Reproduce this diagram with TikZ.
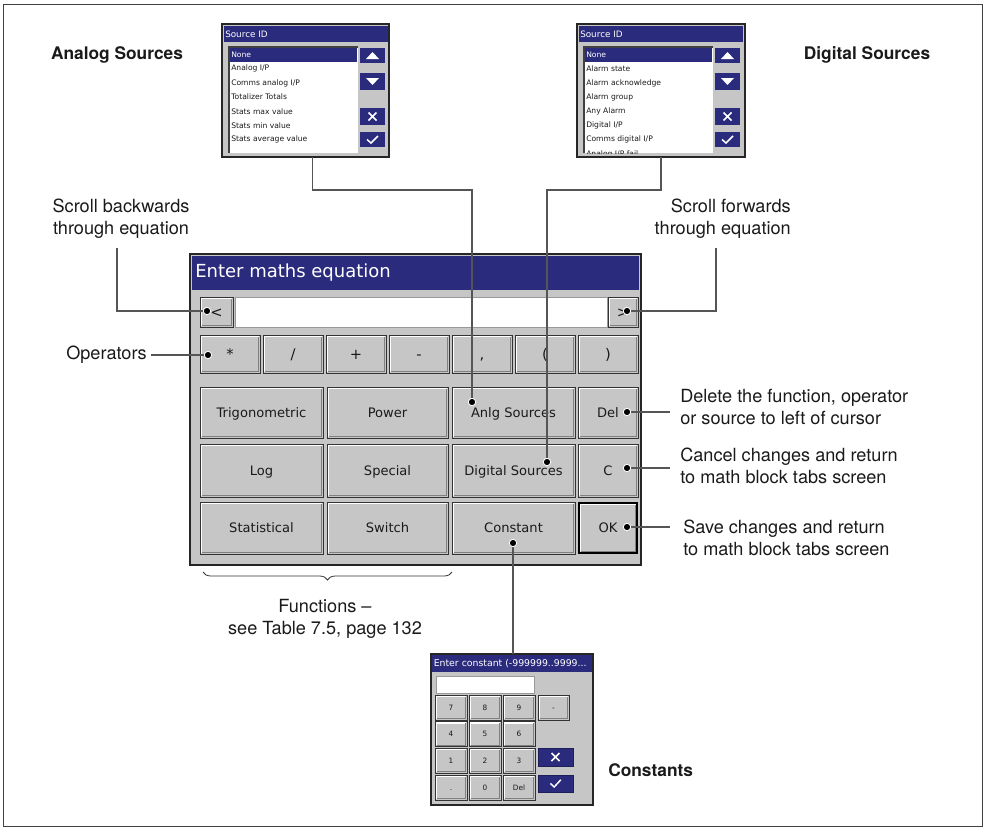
\documentclass[tikz,border=0pt]{standalone}
\usepackage{fontspec}
\setmainfont{TeX Gyre Heros}
\newfontfamily\uifont{DejaVu Sans}
\usetikzlibrary{fit, decorations.pathreplacing}
\definecolor{colNavy}{HTML}{2B2B7D}
\definecolor{colPanel}{HTML}{C6C6C6}
\definecolor{colLead}{HTML}{555555}
\definecolor{colText}{HTML}{1A1A1A}
\newcommand\calloutSize{\fontsize{13.6}{16.5}\selectfont}
\tikzset{
  frameLine/.style={draw=black!75, line width=0.6pt},
  winFrame/.style={draw=black!85, fill=colPanel, line width=0.9pt,
    inner sep=0pt, outer sep=0pt},
  titleBar/.style={fill=colNavy, inner sep=0pt, outer sep=0pt},
  winTitle/.style={font=\uifont\fontsize{13.5}{14}\selectfont, text=white, inner sep=0pt},
  dlgTitle/.style={font=\uifont\fontsize{7}{8}\selectfont, text=white, inner sep=0pt},
  srcTitle/.style={font=\uifont\fontsize{6.6}{7}\selectfont, text=white, inner sep=0pt},
  srcItem/.style={font=\uifont\fontsize{5.7}{6}\selectfont, text=colText, inner sep=0pt},
  entryField/.style={fill=white, draw=black!40, line width=0.6pt, inner sep=0pt, outer sep=0pt,
    path picture={\draw[black!85, line width=1.4pt]
      (path picture bounding box.south west) |- (path picture bounding box.north east);}},
  uiButton/.style={draw=black!80, fill=colPanel, line width=0.6pt, inner sep=0pt, outer sep=0pt,
    path picture={
      \draw[white, line width=1.1pt]
        ([shift={(1pt,1pt)}]path picture bounding box.south west)
        |- ([shift={(-1pt,-1pt)}]path picture bounding box.north east);
      \draw[black!50, line width=0.9pt]
        ([shift={(1.2pt,1.2pt)}]path picture bounding box.south west)
        -| ([shift={(-1.2pt,-1.2pt)}]path picture bounding box.north east);}},
  okButton/.style={uiButton, draw=black, line width=1.6pt},
  navyButton/.style={fill=colNavy, draw=colNavy!70!black, line width=0.5pt,
    inner sep=0pt, outer sep=0pt},
  navyMark/.style={draw=white, line width=1.1pt},
  btnLabel/.style={inner sep=0pt, text=colText, text depth=0pt, text height=7.1pt,
    font=\uifont\fontsize{9.8}{11}\selectfont},
  opFont/.style={font=\uifont\fontsize{11}{12}\selectfont, text height=8pt},
  keyFont/.style={font=\uifont\fontsize{5.5}{6}\selectfont, text height=4pt},
  btnTxt/.style={label={[btnLabel]center:#1}},
  opTxt/.style={label={[btnLabel, opFont]center:#1}},
  keyTxt/.style={label={[btnLabel, keyFont]center:#1}},
  leadLine/.style={draw=colLead, line width=0.9pt},
  dotMark/.style={circle, fill=black, draw=white, line width=0.6pt,
    minimum size=5.5pt, inner sep=0pt},
  callout/.style={font=\calloutSize, text=colText, inner sep=3pt, align=left},
  calloutBold/.style={callout, font=\fontsize{13}{15}\selectfont\bfseries},
  fnBrace/.style={decorate, decoration={brace, mirror, amplitude=6pt},
    draw=black!80, line width=0.6pt},
}
% inner part of a "Source ID" list panel, #1 = left edge, #2 = items after None
\newcommand\srcPanel[2]{%
  \begin{scope}[shift={(#1,24)}]
    \fill[colNavy] (1.5,1.5) rectangle (165.5,18);
    \node[srcTitle, anchor=west] at (3,10) {Source ID};
    \fill[white] (7,23) rectangle (136,129);
    \draw[black!75, line width=0.8pt] (7,129) -- (7,23) -- (136,23);
    \begin{scope}
      \clip (7.5,23.5) rectangle (136,129);
      \fill[colNavy] (8,23.5) rectangle (135,38);
      \node[srcItem, text=white, anchor=west] at (9,30.5) {None};
      \foreach \t [count=\i] in {#2}
        \node[srcItem, anchor=west] at (9,30.5+14.2*\i) {\t};
    \end{scope}
    \foreach \ya/\yb in {24/39, 49/66, 84/101, 108/123}
      \fill[colNavy] (138,\ya) rectangle (163,\yb);
    \fill[white] (144,35) -- (157,35) -- (150.5,28) -- cycle;
    \fill[white] (144,54) -- (157,54) -- (150.5,61) -- cycle;
    \draw[navyMark] (146.5,88.5) -- (154.5,96.5) (146.5,96.5) -- (154.5,88.5);
    \draw[navyMark] (145,115.5) -- (149,119) -- (156,112);
  \end{scope}}

\begin{document}
\begin{tikzpicture}[x=0.75pt, y=-0.75pt]
  \useasboundingbox (0,0) rectangle (985,829);
  \draw[frameLine] (3,4) rectangle (982,826);

  % source lists
  \node[winFrame, fit={(222,24)(389,157)}] (srcA) {};
  \srcPanel{222}{Analog I/P, Comms analog I/P, Totalizer Totals, Stats max value,
    Stats min value, Stats average value}
  \node[winFrame, fit={(577,24)(745,157)}] (srcD) {};
  \srcPanel{577}{Alarm state, Alarm acknowledge, Alarm group, Any Alarm,
    Digital I/P, Comms digital I/P, Analog I/P fail}

  % equation window
  \node[winFrame, fit={(190,254)(641,565)}] (eqWin) {};
  \node[titleBar, fit={(192,256)(639,290)}] (eqBar) {};
  \node[winTitle, anchor=west] (eqTitle) at (195,273) {Enter maths equation};
  \node[uiButton, fit={(200,297)(233,327)}, opTxt=<] (btnBack) {};
  \node[entryField, fit={(235,297)(607,327)}] (eqField) {};
  \node[uiButton, fit={(608,297)(638,327)}, opTxt=>] (btnFwd) {};
  \foreach \s [count=\i from 0] in {*,/,+,-,{,},{(},{)}}
    \node[uiButton, fit={(200+63*\i,335)(260+63*\i,373)}, opTxt=\s] (op\i) {};

  \node[uiButton, fit={(200,387)(323,438)}, btnTxt=Trigonometric] (btnTrig) {};
  \node[uiButton, fit={(327,387)(448,438)}, btnTxt=Power] (btnPower) {};
  \node[uiButton, fit={(452,387)(575,438)}, btnTxt=Anlg Sources] (btnAnlg) {};
  \node[uiButton, fit={(578,387)(638,438)}, btnTxt=Del] (btnDel) {};
  \node[uiButton, fit={(200,444)(323,497)}, btnTxt=Log] (btnLog) {};
  \node[uiButton, fit={(327,444)(448,497)}, btnTxt=Special] (btnSpecial) {};
  \node[uiButton, fit={(452,444)(575,497)}, btnTxt=Digital Sources] (btnDig) {};
  \node[uiButton, fit={(578,444)(638,497)}, btnTxt=C] (btnC) {};
  \node[uiButton, fit={(200,502)(323,554)}, btnTxt=Statistical] (btnStat) {};
  \node[uiButton, fit={(327,502)(448,554)}, btnTxt=Switch] (btnSwitch) {};
  \node[uiButton, fit={(452,502)(575,554)}, btnTxt=Constant] (btnConst) {};
  \node[okButton, fit={(579,503)(637,553)}, btnTxt=OK] (btnOK) {};

  % constant keypad
  \node[winFrame, fit={(431,654)(593,805)}] (kpd) {};
  \node[titleBar, fit={(432,655)(592,672)}] (kpdBar) {};
  \node[dlgTitle, anchor=west] (kpdTitle) at (433.5,663.5) {Enter constant (-999999..9999...};
  \node[entryField, fit={(436,676)(534,693)}] (kpdField) {};
  \foreach \k [count=\i from 0] in {7,8,9,4,5,6,1,2,3,.,0,Del} {
    \pgfmathsetmacro\kx{435+34*mod(\i,3)}
    \pgfmathsetmacro\ky{695+26.7*floor(\i/3)}
    \node[uiButton, fit={(\kx,\ky)(\kx+32,\ky+25)}, keyTxt=\k] (key\i) {};
  }
  \node[uiButton, fit={(538,695)(569,720)}, keyTxt=-] (keyMinus) {};
  \node[navyButton, fit={(538,748)(573,766)}] (kpdCancel) {};
  \draw[navyMark] ([shift={(-3pt,-3pt)}]kpdCancel.center) -- ([shift={(3pt,3pt)}]kpdCancel.center)
    ([shift={(-3pt,3pt)}]kpdCancel.center) -- ([shift={(3pt,-3pt)}]kpdCancel.center);
  \node[navyButton, fit={(538,775)(573,792)}] (kpdOk) {};
  \draw[navyMark] ([shift={(-3.8pt,0pt)}]kpdOk.center) -- ([shift={(-1pt,-2.6pt)}]kpdOk.center)
    -- ([shift={(4pt,2.8pt)}]kpdOk.center);

  % callouts
  \node[calloutBold] (lblAnalog) at (117,55) {Analog Sources};
  \node[calloutBold] (lblDigital) at (867,55) {Digital Sources};
  \node[callout, align=center] (lblBack) at (121,219) {Scroll backwards\\through equation};
  \node[callout, align=right, anchor=east] (lblFwd) at (795,219) {Scroll forwards\\through equation};
  \node[callout, anchor=east] (lblOps) at (151,355) {Operators};
  \node[callout, anchor=west] (lblDel) at (676,407) {Delete the function, operator\\or source to left of cursor};
  \node[callout, anchor=west] (lblC) at (676,466) {Cancel changes and return\\to math block tabs screen};
  \node[callout, anchor=west] (lblOK) at (679,538) {Save changes and return\\to math block tabs screen};
  \node[callout, align=center] (lblFunc) at (325,619) {Functions –\\see Table 7.5, page 132};
  \node[calloutBold, anchor=west] (lblConst) at (604,770) {Constants};
  \draw[fnBrace] (203,572) -- (452,572);

  % marker dots
  \node[dotMark] (dBack) at (207,311) {};
  \node[dotMark] (dFwd) at (627,311) {};
  \node[dotMark] (dOps) at (208,355) {};
  \node[dotMark] (dAnlg) at (472,402) {};
  \node[dotMark] (dDig) at (547,462) {};
  \node[dotMark] (dDel) at (627,412) {};
  \node[dotMark] (dC) at (627,468) {};
  \node[dotMark] (dOK) at (627,527) {};
  \node[dotMark] (dConst) at (513,543) {};

  % leader lines
  \draw[leadLine] (srcA.south) ++(7,0) -- ++(0,33) -| (dAnlg);
  \draw[leadLine] (srcD.south) -- ++(0,33) -| (dDig);
  \draw[leadLine, shorten >=4pt] (dBack) -| ([xshift=-3pt]lblBack.south);
  \draw[leadLine, shorten >=4pt] (dFwd) -| ([xshift=-5pt]lblFwd.south);
  \draw[leadLine] (dOps) -- (lblOps.east |- dOps);
  \draw[leadLine, shorten >=4.5pt] (dDel) -- (lblDel.west |- dDel);
  \draw[leadLine, shorten >=4.5pt] (dC) -- (lblC.west |- dC);
  \draw[leadLine, shorten >=6.7pt] (dOK) -- (lblOK.west |- dOK);
  \draw[leadLine] (dConst) -- (dConst |- kpd.north);
  \foreach \d in {dBack,dFwd,dOps,dAnlg,dDig,dDel,dC,dOK,dConst}
    \node[dotMark] at (\d) {};
\end{tikzpicture}
\end{document}
